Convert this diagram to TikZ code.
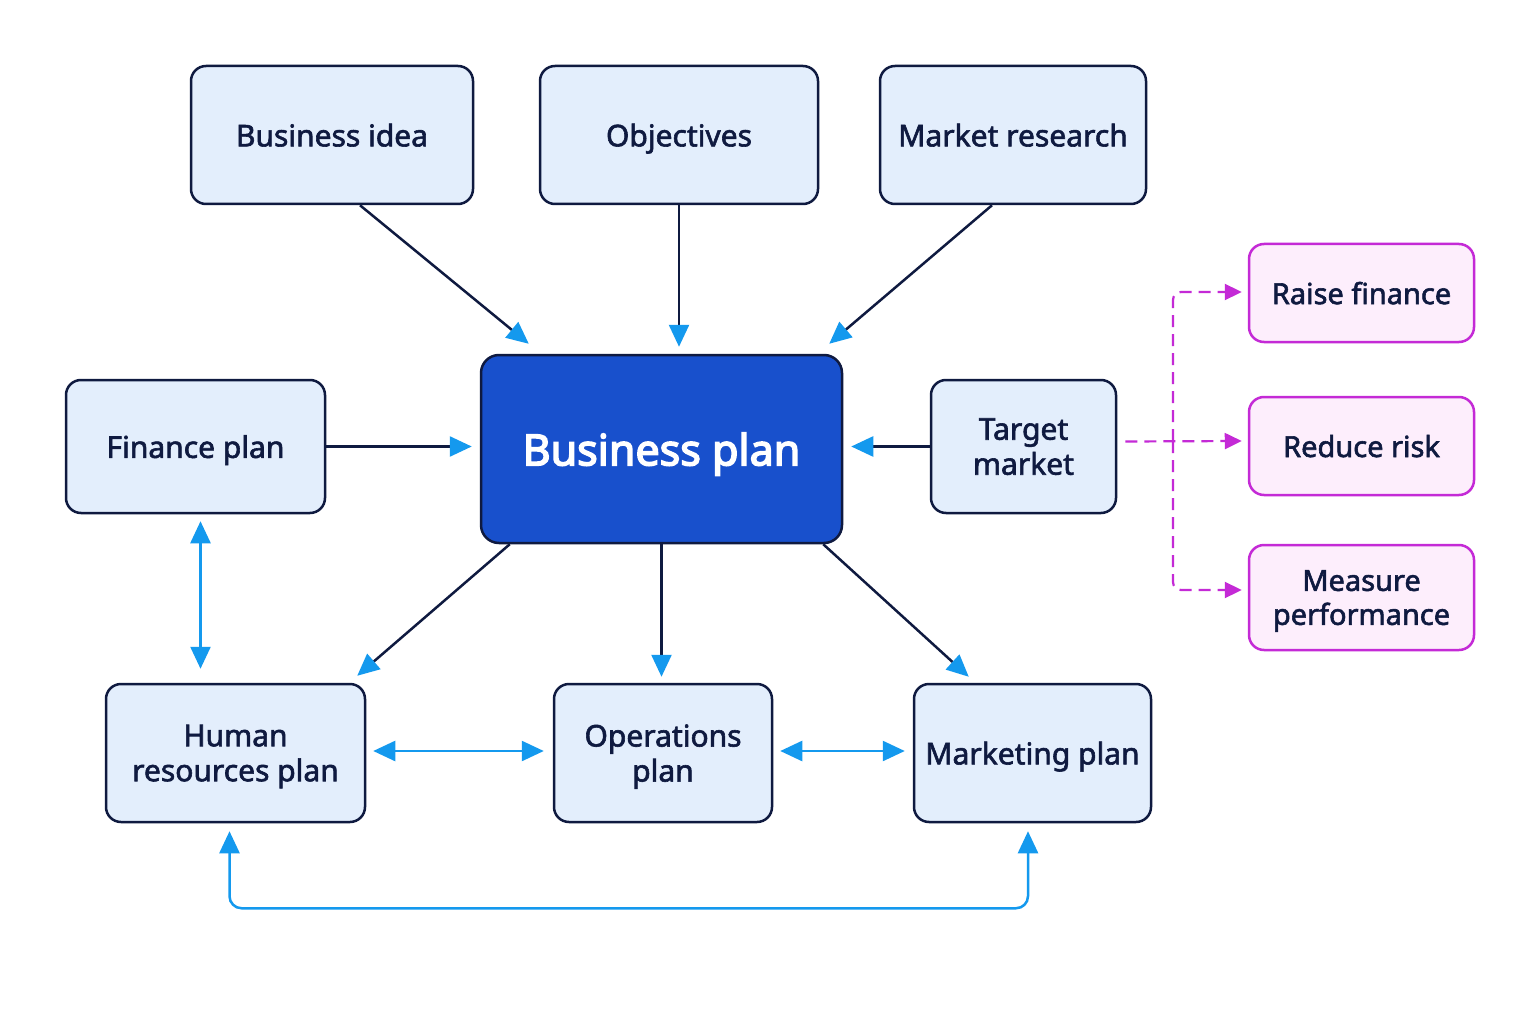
\documentclass[tikz,border=0pt]{standalone}
\usepackage{fontspec}
\setmainfont{Noto Sans}[FakeBold=2]
\newfontfamily\heavyfont{Noto Sans}[FakeBold=3.5]
\usetikzlibrary{arrows.meta,calc}
\definecolor{navy}{HTML}{0F1A40}
\definecolor{boxfill}{HTML}{E3EEFC}
\definecolor{bpfill}{HTML}{1850CC}
\definecolor{cyanc}{HTML}{1499EE}
\definecolor{pinkfill}{HTML}{FDEEFC}
\definecolor{magc}{HTML}{C42AD6}
\tikzset{
  plainbox/.style={draw=navy, line width=2.5pt, fill=boxfill, rounded corners=15pt, text=navy, font=\fontsize{30}{35}\selectfont, align=center, inner sep=0pt, text depth=0pt},
  mainbox/.style={draw=navy, line width=2.5pt, fill=bpfill, rounded corners=18pt, text=white, font=\heavyfont\fontsize{43}{50}\selectfont, align=center, inner sep=0pt, text depth=0pt},
  pinkbox/.style={draw=magc, line width=2.5pt, fill=pinkfill, rounded corners=15pt, text=navy, font=\fontsize{29}{34}\selectfont, align=center, inner sep=0pt, text depth=0pt},
  tip/.tip={Triangle[length=22pt,width=20pt,fill=cyanc,color=cyanc]},
  navyarrow/.style={draw=navy, line width=2.5pt, -{tip}},
  bluearrow/.style={draw=cyanc, line width=2.5pt, {tip}-{tip}},
  magarrow/.style={draw=magc, line width=2.2pt, dash pattern=on 12pt off 7pt, -{Triangle[length=17pt,width=16pt,fill=magc,color=magc]}},
}
\begin{document}
\begin{tikzpicture}[x=1pt,y=-1pt]
\useasboundingbox[fill=white] (0,0) rectangle (1536,1024);
% top row
\node[plainbox, minimum width=282pt, minimum height=138pt] (bi) at (332,135) {Business idea};
\node[plainbox, minimum width=278pt, minimum height=138pt] (ob) at (679,135) {Objectives};
\node[plainbox, minimum width=266pt, minimum height=138pt] (mr) at (1013,135) {Market research};
% middle
\node[mainbox, minimum width=361pt, minimum height=188pt] (bp) at (661.5,449) {Business plan};
\node[plainbox, minimum width=259pt, minimum height=133pt] (fp) at (195.5,446.5) {Finance plan};
\node[plainbox, minimum width=185pt, minimum height=133pt] (tm) at (1023.5,446.5) {Target\\market};
% pink
\node[pinkbox, minimum width=225pt, minimum height=98pt] (rf) at (1361.5,293) {Raise finance};
\node[pinkbox, minimum width=225pt, minimum height=98pt] (rd) at (1361.5,446) {Reduce risk};
\node[pinkbox, minimum width=225pt, minimum height=105pt] (mp) at (1361.5,597.5) {Measure\\performance};
% bottom row
\node[plainbox, minimum width=259pt, minimum height=138pt] (hr) at (235.5,753) {Human\\resources plan};
\node[plainbox, minimum width=218pt, minimum height=138pt] (op) at (663,753) {Operations\\plan};
\node[plainbox, minimum width=237pt, minimum height=138pt] (mk) at (1032.5,753) {Marketing plan};

% arrows into business plan
\draw[navyarrow] ($(bi.south)+(28,0)$) -- ($(bp.north west)+(49,-10)$);
\draw[navyarrow] (ob.south) -- ($(ob.south |- bp.north)+(0,-7)$);
\draw[navyarrow] ($(mr.south)+(-21,0)$) -- ($(bp.north east)+(-14,-10)$);
\draw[navyarrow] (fp.east) -- ($(fp.east -| bp.west)+(-8,0)$);
\draw[navyarrow] (tm.west) -- ($(tm.west -| bp.east)+(8,0)$);
% arrows out of business plan
\draw[navyarrow] ($(bp.south west)+(30,0)$) -- ($(hr.north east)+(-9,-7)$);
\draw[navyarrow] (bp.south) -- ($(bp.south |- op.north)+(0,-6)$);
\draw[navyarrow] ($(bp.south east)+(-20,0)$) -- ($(mk.north west)+(56,-6)$);
% blue double arrows
\draw[bluearrow] ($(fp.south)+(5,7)$) -- ($(fp.south |- hr.north)+(5,-14)$);
\draw[bluearrow] ($(hr.east)+(7,-2)$) -- ($(op.west)+(-9,-2)$);
\draw[bluearrow] ($(op.east)+(7,-2)$) -- ($(mk.west)+(-8,-2)$);
\draw[bluearrow, rounded corners=12pt] ($(hr.south)+(-6,8)$) -- ($(hr.south)+(-6,85)$) -| ($(mk.south)+(-4.5,8)$);
% dashed magenta
\coordinate (j) at (1173,441);
\draw[magarrow] ($(tm.east)+(8,-5)$) -- ($(rd.west)+(-6,-5)$);
\draw[magarrow, rounded corners=8pt] (j) |- ($(rf.west)+(-6,-1)$);
\draw[magarrow, rounded corners=8pt] (j) |- ($(mp.west)+(-6,-7.5)$);
\end{tikzpicture}
\end{document}
